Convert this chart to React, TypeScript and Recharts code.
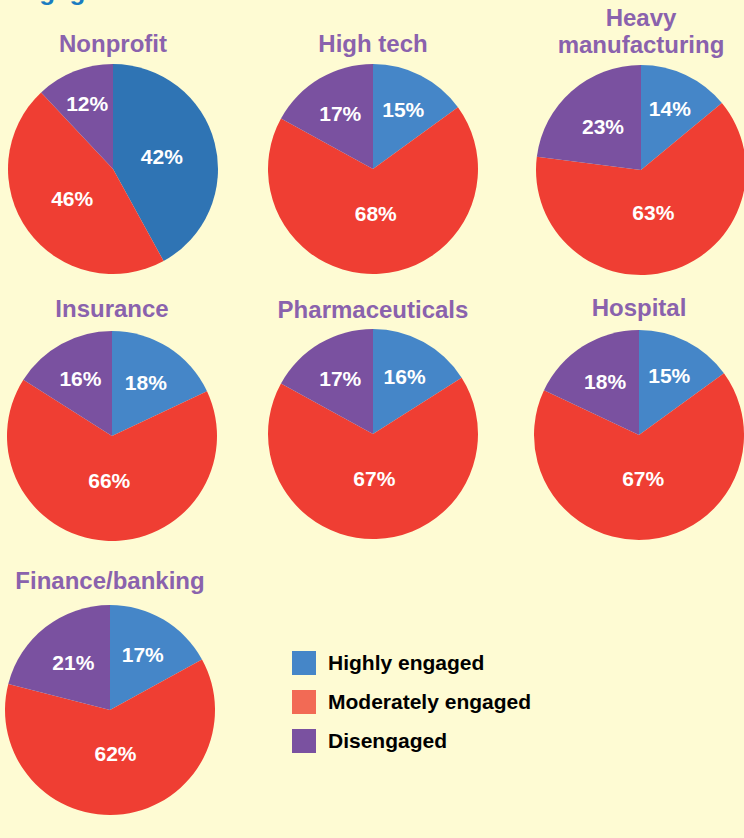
import { PieChart, Pie, Cell } from "recharts";

const industries = ["Nonprofit", "High tech", "Heavy manufacturing", "Insurance", "Pharmaceuticals", "Hospital", "Finance/banking"];
const highlyEngaged = [42, 15, 14, 18, 16, 15, 17];
const moderatelyEngaged = [46, 68, 63, 66, 67, 67, 62];
const disengaged = [12, 17, 23, 16, 17, 18, 21];
const legendLabels = ["Highly engaged", "Moderately engaged", "Disengaged"];

// where each pie sits on the page
const centers = [
  [113, 169], [373, 169], [641, 170],
  [112, 436], [373, 434], [639, 435],
  [110, 710],
];
const titleTops = [30, 30, 4, 295, 296, 294, 567];

const RADIUS = 105;
const BLUE = "#4586c8";
const RED = "#ef3e33";
const PURPLE = "#7a51a0";
const BG = "#fefbd3";
const font = "'Liberation Sans', Arial, sans-serif";

const RAD = Math.PI / 180;

// small slices get their label pushed further out
function labelFactor(p: number) {
  if (p > 0.55) return 0.42;
  if (p > 0.3) return 0.48;
  return 0.8 - p * 1.1;
}

function renderLabel(props: any) {
  const { cx, cy, midAngle, outerRadius, percent, value } = props;
  const r = outerRadius * labelFactor(percent);
  const x = cx + r * Math.cos(-midAngle * RAD);
  const y = cy + r * Math.sin(-midAngle * RAD);
  return (
    <text x={x} y={y} fill="#fff" textAnchor="middle" dominantBaseline="central"
      fontFamily={font} fontWeight={700} fontSize={21}>
      {value}%
    </text>
  );
}

export default function App() {
  const pies = industries.map((name, i) => ({
    name,
    data: [
      { name: legendLabels[0], value: highlyEngaged[i] },
      { name: legendLabels[1], value: moderatelyEngaged[i] },
      { name: legendLabels[2], value: disengaged[i] },
    ],
  }));

  return (
    <div style={{ position: "absolute", left: 0, top: 0, width: 744, height: 838, background: BG, overflow: "hidden", fontFamily: font }}>
      {/* heading cut off at the top edge, as in the source */}
      <div style={{ position: "absolute", left: 6, top: -22, fontSize: 26, lineHeight: "26px", fontWeight: 700, color: "#1a7cc1", whiteSpace: "nowrap" }}>
        Engagement
      </div>

      {pies.map((p, i) => (
        <div key={p.name} style={{
          position: "absolute", left: centers[i][0] - 120, width: 240, top: titleTops[i],
          textAlign: "center", color: "#8a62ad", fontWeight: 700, fontSize: 24, lineHeight: "27px",
        }}>
          {p.name === "Heavy manufacturing" ? <>Heavy<br />manufacturing</> : p.name}
        </div>
      ))}

      <div style={{ position: "absolute", left: 0, top: 0 }}>
        <PieChart width={744} height={838} margin={{ top: 0, right: 0, bottom: 0, left: 0 }}>
          {pies.map((p, i) => (
            <Pie key={p.name} data={p.data} dataKey="value" nameKey="name"
              cx={centers[i][0]} cy={centers[i][1]} outerRadius={RADIUS}
              startAngle={90} endAngle={-270} stroke="none"
              label={renderLabel} labelLine={false} isAnimationActive={false}>
              <Cell fill={i === 0 ? "#2f74b4" : BLUE} />
              <Cell fill={RED} />
              <Cell fill={PURPLE} />
            </Pie>
          ))}
        </PieChart>
      </div>

      {legendLabels.map((l, k) => (
        <div key={l} style={{ position: "absolute", left: 292, top: 651 + k * 39, display: "flex", alignItems: "center", height: 24 }}>
          <div style={{ width: 24, height: 24, background: [BLUE, "#f26a55", PURPLE][k] }} />
          <span style={{ marginLeft: 12, fontSize: 21, fontWeight: 700, color: "#000" }}>{l}</span>
        </div>
      ))}
    </div>
  );
}
